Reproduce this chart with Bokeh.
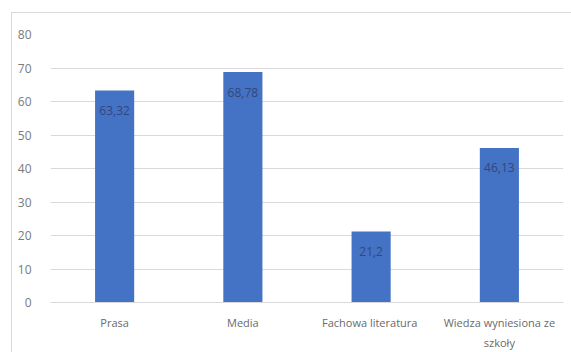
from bokeh.plotting import figure
from bokeh.models import ColumnDataSource, Range1d, FixedTicker
from bokeh.core.properties import value
from bokeh.embed import file_html
from bokeh.resources import INLINE

categories = ["Prasa", "Media", "Fachowa  literatura", "Wiedza wyniesiona ze\nszkoły"]
values = [63.32, 68.78, 21.2, 46.13]
value_labels = ["63,32", "68,78", "21,2", "46,13"]
y_ticks = [0, 10, 20, 30, 40, 50, 60, 70, 80]

xpos = [i + 0.5 for i in range(len(categories))]
src = ColumnDataSource(dict(x=xpos, val=values, lab=value_labels))

p = figure(
    x_range=Range1d(0, len(categories)),
    y_range=Range1d(0, 80),
    width=560, height=340,
    output_backend="svg", toolbar_location=None,
    min_border_left=38, min_border_right=9, min_border_top=21, min_border_bottom=51,
)
p.margin = (12, 0, 0, 11)
p.styles = {"border-left": "1px solid #d9d9d9", "border-top": "1px solid #d9d9d9"}
p.outline_line_color = None
p.background_fill_color = "white"
p.border_fill_color = "white"

p.vbar(x="x", top="val", width=0.305, source=src, color="#4472C4", line_color=None)
p.text(x="x", y="val", text="lab", source=src, text_align="center", text_baseline="middle",
       y_offset=20, text_font=value("Open Sans"), text_font_size="12px", text_color="#34477a")

p.xgrid.grid_line_color = None
p.ygrid.grid_line_color = "#d9d9d9"
p.yaxis.ticker = FixedTicker(ticks=y_ticks)
p.yaxis.axis_line_color = None
p.yaxis.major_tick_line_color = None
p.yaxis.minor_tick_line_color = None
p.yaxis.major_label_standoff = 13
p.yaxis.major_label_text_font = "Open Sans"
p.yaxis.major_label_text_font_size = "12px"
p.yaxis.major_label_text_color = "#7a7a7a"

p.xaxis.ticker = FixedTicker(ticks=xpos)
p.xaxis.major_label_overrides = {x: c for x, c in zip(xpos, categories)}
p.xaxis.axis_line_color = "#d9d9d9"
p.xaxis.major_tick_line_color = None
p.xaxis.minor_tick_line_color = None
p.xaxis.major_label_standoff = 6
p.xaxis.major_label_text_font = "Open Sans"
p.xaxis.major_label_text_font_size = "11px"
p.xaxis.major_label_text_color = "#6a6a6a"
p.xaxis.major_label_text_line_height = 1.35

open("out.html", "w").write(file_html(p, INLINE))
